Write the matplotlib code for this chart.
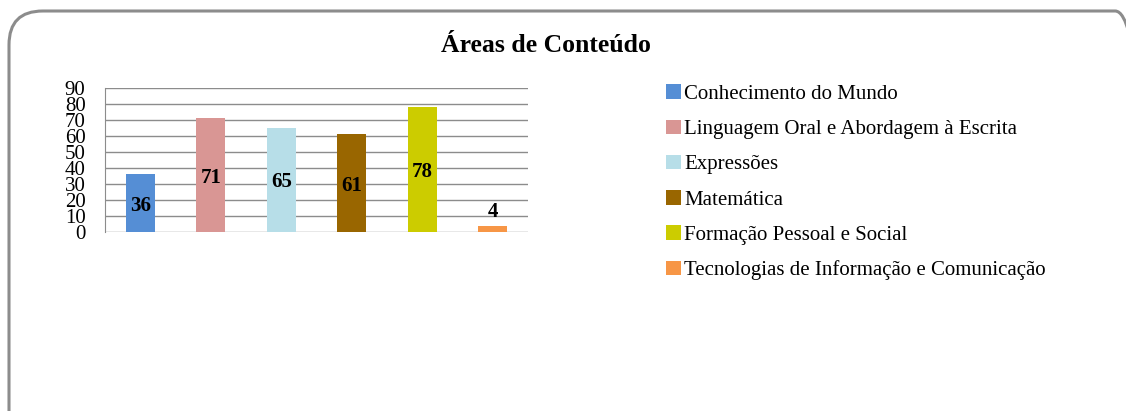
import numpy as np
import matplotlib
matplotlib.use("Agg")
import matplotlib.pyplot as plt
from matplotlib.patches import FancyBboxPatch, Patch

# dados do gráfico
categorias = ["Conhecimento do Mundo",
              "Linguagem Oral e Abordagem à Escrita",
              "Expressões",
              "Matemática",
              "Formação Pessoal e Social",
              "Tecnologias de Informação e Comunicação"]
valores = [36, 71, 65, 61, 78, 4]
cores = ["#558ED5", "#D99694", "#B7DEE8", "#996600", "#CCCC00", "#F79646"]
yticks = list(range(0, 100, 10))

plt.rcParams['font.family'] = ['Liberation Serif', 'DejaVu Serif']

W, H = 1126, 411
fig = plt.figure(figsize=(W / 100, H / 100), dpi=100)

# moldura arredondada
box = FancyBboxPatch((9 / W, -40 / H), 1140 / W, (H - 11 + 40) / H,
                     boxstyle="round,pad=0,rounding_size=0.03",
                     transform=fig.transFigure, fill=False,
                     edgecolor="#8c8c8c", linewidth=2.2, mutation_aspect=W / H)
fig.patches.append(box)

fig.text(546 / W, 1 - 45 / H, "Áreas de Conteúdo", ha="center", va="center",
         fontsize=18.5, fontweight="bold")

ax = fig.add_axes([105 / W, 1 - 232 / H, 423 / W, 144 / H])
x = np.arange(len(valores))
bars = ax.bar(x, valores, width=0.41, color=cores, zorder=3)
ax.set_xlim(-0.5, len(valores) - 0.5)
ax.set_ylim(0, 90)
ax.set_yticks(yticks)
ax.set_yticklabels([str(t) for t in yticks], fontsize=15)
ax.set_xticks([])
ax.grid(axis="y", color="#8c8c8c", linewidth=1, zorder=0)
for s in ["top", "right", "bottom"]:
    ax.spines[s].set_visible(False)
ax.spines["left"].set_color("#8c8c8c")
ax.tick_params(axis="y", length=0, pad=14)

for xi, v in zip(x, valores):
    if v > 10:
        ax.text(xi, v / 2 - 1.5, str(v), ha="center", va="center", fontsize=15,
                fontweight="bold", zorder=4)
    else:
        ax.text(xi, v + 2, str(v), ha="center", va="bottom", fontsize=15,
                fontweight="bold", zorder=4)

handles = [Patch(facecolor=c, edgecolor="none") for c in cores]
fig.legend(handles, categorias, loc="upper left",
           bbox_to_anchor=(658 / W, 1 - 76 / H), frameon=False,
           fontsize=15, handlelength=0.7, handleheight=0.7,
           handletextpad=0.15, labelspacing=0.75, borderaxespad=0)

fig.savefig("out.png", dpi=100)
